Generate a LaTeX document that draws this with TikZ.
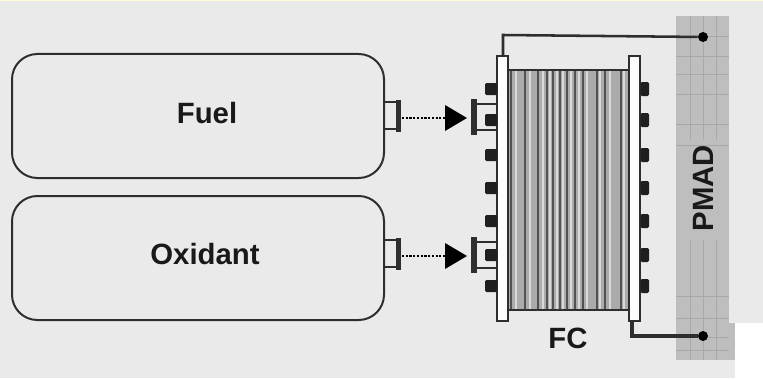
\documentclass[tikz,border=0pt]{standalone}
\usepackage{fontspec}
\setmainfont{Liberation Sans}
\definecolor{bgc}{HTML}{EAEAEA}
\definecolor{ink}{HTML}{2E2E2E}
\definecolor{pm}{HTML}{BEBEBE}
\definecolor{pmline}{HTML}{A8A8A8}
\tikzset{
  x=0.75pt,y=-0.75pt,
  tank/.style={draw=ink,line width=1.5pt,rounded corners=19pt,fill=bgc,minimum width=279pt,minimum height=93pt,inner sep=0pt},
  lbl/.style={font=\bfseries\fontsize{22pt}{24pt}\selectfont,text=black!90,inner sep=0pt},
  wire/.style={draw=ink,line width=1.9pt},
  flow/.style={draw=black,line width=0.9pt,dash pattern=on 1.6pt off 1.2pt},
  tip/.style={fill=black,draw=none},
  bump/.style={fill=black!88,draw=none,rounded corners=1pt},
  plate/.style={draw=ink,line width=1.4pt,fill=white!90!bgc,minimum width=8.25pt,minimum height=199pt,inner sep=0pt},
  dotend/.style={circle,fill=black,inner sep=0pt,minimum size=7.5pt}
}
\begin{document}
\begin{tikzpicture}
\useasboundingbox (0,0) rectangle (763,378);
\fill[bgc] (0,0) rectangle (763,378);
\fill[white] (735,323) rectangle (763,378);
\fill[yellow!15!white] (0,0) rectangle (763,1.5);
% PMAD
\fill[pm] (676,16) rectangle (729,323);
\fill[pm] (676,323) rectangle (735,360);
\foreach \yy in {36,56,74,94,124,145,296,318,337,350}
  \draw[pmline,line width=0.6pt] (676,\yy) -- (729,\yy);
\foreach \xx in {690,703,716}{
  \draw[pmline,line width=0.4pt] (\xx,16) -- (\xx,140);
  \draw[pmline,line width=0.4pt] (\xx,240) -- (\xx,360);}
\node[lbl,rotate=90] (pmad) at (703,188) {PMAD};
% tanks
\node[tank] (fuel) at (198,116) {};
\node[tank] (ox) at (198,258) {};
\node[lbl] at (207,113) {Fuel};
\node[lbl] at (205,254) {Oxidant};
% stack
\fill[black!33] (508,70) rectangle (629,310);
\foreach \xx in {516,530,543,550,557,563,571,579,587,600,610,624}
  \draw[black!15,line width=1.8pt] (\xx,70) -- (\xx,310);
\foreach \xx in {511,525,538,547,553,560,567,575,583,597,605,621}
  \draw[black!68,line width=1.1pt] (\xx,70) -- (\xx,310);
\draw[ink,line width=1.4pt] (508,70) -- (629,70) (508,310) -- (629,310);
% end plates
\node[plate] (pl) at (502.5,188.5) {};
\node[plate] (pr) at (634.5,188.5) {};
% bumps
\foreach \yy in {89,120,155,188,221,255,286}{
  \fill[bump] (485,\yy-6) rectangle (497,\yy+6);
  \fill[bump] (640.5,\yy-7) rectangle (649,\yy+7);}
% nozzles and ports
\foreach \yc/\nm in {116/a,254/b}{
  \draw[ink,line width=1.4pt] (384,\yc-14) -- (398,\yc-14) (384,\yc+13) -- (398,\yc+13);
  \fill[ink] (396,\yc-16) rectangle (401,\yc+16);
  \coordinate (noz\nm) at (402,\yc+\ifx\nm a1\else2\fi);
  \coordinate (in\nm) at (448,\yc+\ifx\nm a1\else2\fi);
  \draw[flow] (noz\nm) -- (in\nm);
  \fill[tip] (445,\yc+\ifx\nm a1\else2\fi-13) -- (467,\yc+\ifx\nm a1\else2\fi) -- (445,\yc+\ifx\nm a1\else2\fi+13) -- cycle;
  \fill[ink] (471,\yc-17) rectangle (477,\yc+19);
  \draw[ink,line width=1.1pt] (476,\yc-12) -- (497,\yc-12) (476,\yc+14) -- (497,\yc+14);
}
% wires
\node[dotend] (dt) at (703,37) {};
\node[dotend] (db) at (703,336) {};
\coordinate (pltop) at (503,56);
\coordinate (prbot) at (632,321);
\draw[wire] (pltop) -- (503,35) -- (dt);
\draw[wire,line width=2.6pt] (prbot) -- (632,336) -- (db);
\node[lbl] (fc) at (568,338) {FC};
\end{tikzpicture}
\end{document}
